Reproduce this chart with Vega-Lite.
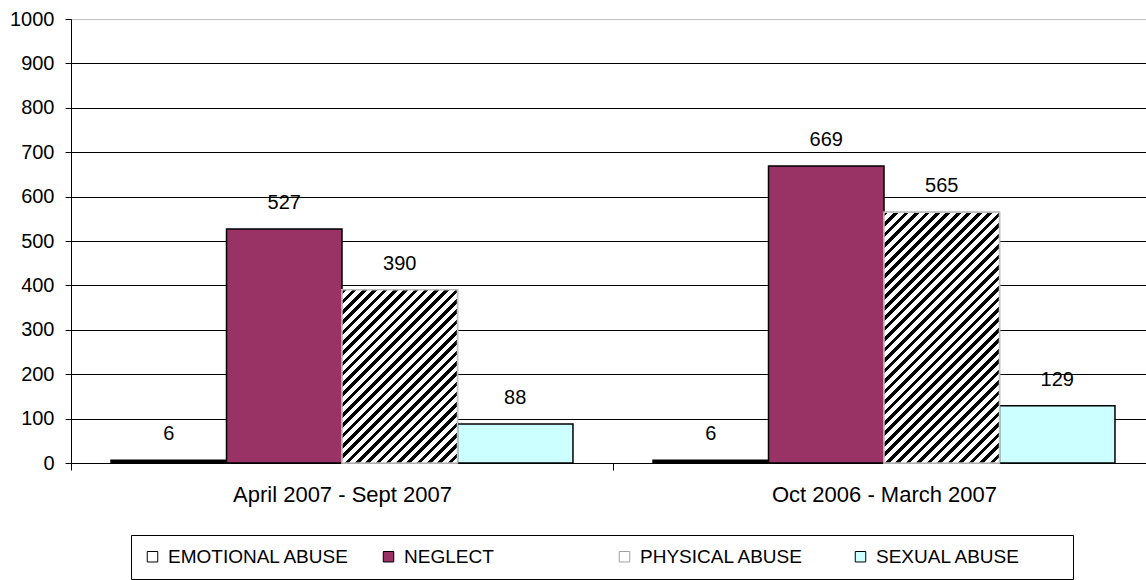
{
  "$schema": "https://vega.github.io/schema/vega-lite/v6.json",
  "width": 1075,
  "height": 444,
  "autosize": {"type": "none"},
  "padding": {"left": 71, "top": 19, "right": 0, "bottom": 117},
  "background": "white",
  "config": {"view": {"stroke": null}, "font": "Liberation Sans"},
  "data": {"values": [
    {"period": "April 2007 - Sept 2007", "type": "EMOTIONAL ABUSE", "count": 6},
    {"period": "April 2007 - Sept 2007", "type": "NEGLECT", "count": 527},
    {"period": "April 2007 - Sept 2007", "type": "PHYSICAL ABUSE", "count": 390},
    {"period": "April 2007 - Sept 2007", "type": "SEXUAL ABUSE", "count": 88},
    {"period": "Oct 2006 - March 2007", "type": "EMOTIONAL ABUSE", "count": 6},
    {"period": "Oct 2006 - March 2007", "type": "NEGLECT", "count": 669},
    {"period": "Oct 2006 - March 2007", "type": "PHYSICAL ABUSE", "count": 565},
    {"period": "Oct 2006 - March 2007", "type": "SEXUAL ABUSE", "count": 129}
  ]},
  "encoding": {
    "x": {
      "field": "period", "type": "nominal",
      "sort": ["April 2007 - Sept 2007", "Oct 2006 - March 2007"],
      "scale": {"range": [0, 1084], "paddingInner": 0, "paddingOuter": 0},
      "axis": {"title": null, "labelAngle": 0, "labelFontSize": 22, "labelColor": "black", "labelFont": "Liberation Sans", "labelLimit": 0,
        "domainColor": "black", "tickColor": "black", "tickSize": 7, "tickBand": "extent", "labelPadding": 14, "grid": false}
    },
    "xOffset": {
      "field": "type", "type": "nominal",
      "scale": {"domain": ["EMOTIONAL ABUSE", "NEGLECT", "PHYSICAL ABUSE", "SEXUAL ABUSE"], "paddingInner": 0, "paddingOuter": 0.3466}
    },
    "y": {
      "field": "count", "type": "quantitative",
      "scale": {"domain": [0, 1000], "nice": false},
      "axis": {"title": null, "values": [0, 100, 200, 300, 400, 500, 600, 700, 800, 900, 1000], "format": "d",
        "labelFontSize": 20, "labelColor": "black", "labelFont": "Liberation Sans", "tickColor": "black", "tickSize": 6, "labelPadding": 11,
        "domainColor": "black",
        "gridColor": {"condition": {"test": "datum.value === 1000", "value": "#c0c0c0"}, "value": "black"},
        "gridOpacity": 1}
    }
  },
  "layer": [
    {
      "mark": {"type": "bar", "strokeWidth": 1.5},
      "encoding": {
        "color": {
          "field": "type", "type": "nominal",
          "scale": {"domain": ["EMOTIONAL ABUSE", "NEGLECT", "PHYSICAL ABUSE", "SEXUAL ABUSE"], "range": ["#ffffff", "#993366", "#ffffff", "#ccffff"]},
          "legend": {"title": " ", "titleOrient": "right", "titlePadding": 40, "orient": "none", "legendX": 60, "legendY": 516, "direction": "horizontal", "columns": 4, "gridAlign": "all",
            "columnPadding": 29, "padding": 12, "strokeColor": "black", "symbolType": "square", "symbolSize": 110, "symbolStrokeWidth": 1,
            "labelFont": "Liberation Sans", "labelFontSize": 19, "labelColor": "black", "labelOffset": 6, "labelLimit": 0, "symbolOpacity": 1}
        },
        "stroke": {
          "field": "type", "type": "nominal",
          "scale": {"domain": ["EMOTIONAL ABUSE", "NEGLECT", "PHYSICAL ABUSE", "SEXUAL ABUSE"], "range": ["#000000", "#000000", "#a0a0a0", "#000000"]},
          "legend": {"title": " ", "titleOrient": "right", "titlePadding": 40, "orient": "none", "legendX": 60, "legendY": 516, "direction": "horizontal", "columns": 4, "gridAlign": "all",
            "columnPadding": 29, "padding": 12, "strokeColor": "black", "symbolType": "square", "symbolSize": 110, "symbolStrokeWidth": 1,
            "labelFont": "Liberation Sans", "labelFontSize": 19, "labelColor": "black", "labelOffset": 6, "labelLimit": 0, "symbolOpacity": 1}
        }
      }
    },
    {
      "transform": [{"filter": "datum.type === 'EMOTIONAL ABUSE'"}],
      "mark": {"type": "bar", "fill": "#000000", "strokeWidth": 0}
    },
    {
      "transform": [{"filter": "datum.type === 'PHYSICAL ABUSE'"}],
      "mark": {"type": "bar", "stroke": "#c0c0c0", "strokeWidth": 1.5},
      "encoding": {
        "fill": {
          "condition": {
            "test": "datum.period === 'April 2007 - Sept 2007'",
            "value": {"gradient": "linear", "x1": 0, "y1": 0, "x2": 0.7695, "y2": 1.1538, "stops": [
              {"offset": 0, "color": "#000"}, {"offset": 0.0161, "color": "#000"}, {"offset": 0.0161, "color": "#fff"}, {"offset": 0.0357, "color": "#fff"},
              {"offset": 0.0357, "color": "#000"}, {"offset": 0.0518, "color": "#000"}, {"offset": 0.0518, "color": "#fff"}, {"offset": 0.0714, "color": "#fff"},
              {"offset": 0.0714, "color": "#000"}, {"offset": 0.0875, "color": "#000"}, {"offset": 0.0875, "color": "#fff"}, {"offset": 0.1071, "color": "#fff"},
              {"offset": 0.1071, "color": "#000"}, {"offset": 0.1232, "color": "#000"}, {"offset": 0.1232, "color": "#fff"}, {"offset": 0.1429, "color": "#fff"},
              {"offset": 0.1429, "color": "#000"}, {"offset": 0.1589, "color": "#000"}, {"offset": 0.1589, "color": "#fff"}, {"offset": 0.1786, "color": "#fff"},
              {"offset": 0.1786, "color": "#000"}, {"offset": 0.1946, "color": "#000"}, {"offset": 0.1946, "color": "#fff"}, {"offset": 0.2143, "color": "#fff"},
              {"offset": 0.2143, "color": "#000"}, {"offset": 0.2304, "color": "#000"}, {"offset": 0.2304, "color": "#fff"}, {"offset": 0.25, "color": "#fff"},
              {"offset": 0.25, "color": "#000"}, {"offset": 0.2661, "color": "#000"}, {"offset": 0.2661, "color": "#fff"}, {"offset": 0.2857, "color": "#fff"},
              {"offset": 0.2857, "color": "#000"}, {"offset": 0.3018, "color": "#000"}, {"offset": 0.3018, "color": "#fff"}, {"offset": 0.3214, "color": "#fff"},
              {"offset": 0.3214, "color": "#000"}, {"offset": 0.3375, "color": "#000"}, {"offset": 0.3375, "color": "#fff"}, {"offset": 0.3571, "color": "#fff"},
              {"offset": 0.3571, "color": "#000"}, {"offset": 0.3732, "color": "#000"}, {"offset": 0.3732, "color": "#fff"}, {"offset": 0.3929, "color": "#fff"},
              {"offset": 0.3929, "color": "#000"}, {"offset": 0.4089, "color": "#000"}, {"offset": 0.4089, "color": "#fff"}, {"offset": 0.4286, "color": "#fff"},
              {"offset": 0.4286, "color": "#000"}, {"offset": 0.4446, "color": "#000"}, {"offset": 0.4446, "color": "#fff"}, {"offset": 0.4643, "color": "#fff"},
              {"offset": 0.4643, "color": "#000"}, {"offset": 0.4804, "color": "#000"}, {"offset": 0.4804, "color": "#fff"}, {"offset": 0.5, "color": "#fff"},
              {"offset": 0.5, "color": "#000"}, {"offset": 0.5161, "color": "#000"}, {"offset": 0.5161, "color": "#fff"}, {"offset": 0.5357, "color": "#fff"},
              {"offset": 0.5357, "color": "#000"}, {"offset": 0.5518, "color": "#000"}, {"offset": 0.5518, "color": "#fff"}, {"offset": 0.5714, "color": "#fff"},
              {"offset": 0.5714, "color": "#000"}, {"offset": 0.5875, "color": "#000"}, {"offset": 0.5875, "color": "#fff"}, {"offset": 0.6071, "color": "#fff"},
              {"offset": 0.6071, "color": "#000"}, {"offset": 0.6232, "color": "#000"}, {"offset": 0.6232, "color": "#fff"}, {"offset": 0.6429, "color": "#fff"},
              {"offset": 0.6429, "color": "#000"}, {"offset": 0.6589, "color": "#000"}, {"offset": 0.6589, "color": "#fff"}, {"offset": 0.6786, "color": "#fff"},
              {"offset": 0.6786, "color": "#000"}, {"offset": 0.6946, "color": "#000"}, {"offset": 0.6946, "color": "#fff"}, {"offset": 0.7143, "color": "#fff"},
              {"offset": 0.7143, "color": "#000"}, {"offset": 0.7304, "color": "#000"}, {"offset": 0.7304, "color": "#fff"}, {"offset": 0.75, "color": "#fff"},
              {"offset": 0.75, "color": "#000"}, {"offset": 0.7661, "color": "#000"}, {"offset": 0.7661, "color": "#fff"}, {"offset": 0.7857, "color": "#fff"},
              {"offset": 0.7857, "color": "#000"}, {"offset": 0.8018, "color": "#000"}, {"offset": 0.8018, "color": "#fff"}, {"offset": 0.8214, "color": "#fff"},
              {"offset": 0.8214, "color": "#000"}, {"offset": 0.8375, "color": "#000"}, {"offset": 0.8375, "color": "#fff"}, {"offset": 0.8571, "color": "#fff"},
              {"offset": 0.8571, "color": "#000"}, {"offset": 0.8732, "color": "#000"}, {"offset": 0.8732, "color": "#fff"}, {"offset": 0.8929, "color": "#fff"},
              {"offset": 0.8929, "color": "#000"}, {"offset": 0.9089, "color": "#000"}, {"offset": 0.9089, "color": "#fff"}, {"offset": 0.9286, "color": "#fff"},
              {"offset": 0.9286, "color": "#000"}, {"offset": 0.9446, "color": "#000"}, {"offset": 0.9446, "color": "#fff"}, {"offset": 0.9643, "color": "#fff"},
              {"offset": 0.9643, "color": "#000"}, {"offset": 0.9804, "color": "#000"}, {"offset": 0.9804, "color": "#fff"}, {"offset": 1, "color": "#fff"}
            ]}
          },
          "value": {"gradient": "linear", "x1": 0, "y1": 0, "x2": 0.5547, "y2": 1.205, "stops": [
            {"offset": 0, "color": "#000"}, {"offset": 0.0129, "color": "#000"}, {"offset": 0.0129, "color": "#fff"}, {"offset": 0.0286, "color": "#fff"},
            {"offset": 0.0286, "color": "#000"}, {"offset": 0.0414, "color": "#000"}, {"offset": 0.0414, "color": "#fff"}, {"offset": 0.0571, "color": "#fff"},
            {"offset": 0.0571, "color": "#000"}, {"offset": 0.07, "color": "#000"}, {"offset": 0.07, "color": "#fff"}, {"offset": 0.0857, "color": "#fff"},
            {"offset": 0.0857, "color": "#000"}, {"offset": 0.0986, "color": "#000"}, {"offset": 0.0986, "color": "#fff"}, {"offset": 0.1143, "color": "#fff"},
            {"offset": 0.1143, "color": "#000"}, {"offset": 0.1271, "color": "#000"}, {"offset": 0.1271, "color": "#fff"}, {"offset": 0.1429, "color": "#fff"},
            {"offset": 0.1429, "color": "#000"}, {"offset": 0.1557, "color": "#000"}, {"offset": 0.1557, "color": "#fff"}, {"offset": 0.1714, "color": "#fff"},
            {"offset": 0.1714, "color": "#000"}, {"offset": 0.1843, "color": "#000"}, {"offset": 0.1843, "color": "#fff"}, {"offset": 0.2, "color": "#fff"},
            {"offset": 0.2, "color": "#000"}, {"offset": 0.2129, "color": "#000"}, {"offset": 0.2129, "color": "#fff"}, {"offset": 0.2286, "color": "#fff"},
            {"offset": 0.2286, "color": "#000"}, {"offset": 0.2414, "color": "#000"}, {"offset": 0.2414, "color": "#fff"}, {"offset": 0.2571, "color": "#fff"},
            {"offset": 0.2571, "color": "#000"}, {"offset": 0.27, "color": "#000"}, {"offset": 0.27, "color": "#fff"}, {"offset": 0.2857, "color": "#fff"},
            {"offset": 0.2857, "color": "#000"}, {"offset": 0.2986, "color": "#000"}, {"offset": 0.2986, "color": "#fff"}, {"offset": 0.3143, "color": "#fff"},
            {"offset": 0.3143, "color": "#000"}, {"offset": 0.3271, "color": "#000"}, {"offset": 0.3271, "color": "#fff"}, {"offset": 0.3429, "color": "#fff"},
            {"offset": 0.3429, "color": "#000"}, {"offset": 0.3557, "color": "#000"}, {"offset": 0.3557, "color": "#fff"}, {"offset": 0.3714, "color": "#fff"},
            {"offset": 0.3714, "color": "#000"}, {"offset": 0.3843, "color": "#000"}, {"offset": 0.3843, "color": "#fff"}, {"offset": 0.4, "color": "#fff"},
            {"offset": 0.4, "color": "#000"}, {"offset": 0.4129, "color": "#000"}, {"offset": 0.4129, "color": "#fff"}, {"offset": 0.4286, "color": "#fff"},
            {"offset": 0.4286, "color": "#000"}, {"offset": 0.4414, "color": "#000"}, {"offset": 0.4414, "color": "#fff"}, {"offset": 0.4571, "color": "#fff"},
            {"offset": 0.4571, "color": "#000"}, {"offset": 0.47, "color": "#000"}, {"offset": 0.47, "color": "#fff"}, {"offset": 0.4857, "color": "#fff"},
            {"offset": 0.4857, "color": "#000"}, {"offset": 0.4986, "color": "#000"}, {"offset": 0.4986, "color": "#fff"}, {"offset": 0.5143, "color": "#fff"},
            {"offset": 0.5143, "color": "#000"}, {"offset": 0.5271, "color": "#000"}, {"offset": 0.5271, "color": "#fff"}, {"offset": 0.5429, "color": "#fff"},
            {"offset": 0.5429, "color": "#000"}, {"offset": 0.5557, "color": "#000"}, {"offset": 0.5557, "color": "#fff"}, {"offset": 0.5714, "color": "#fff"},
            {"offset": 0.5714, "color": "#000"}, {"offset": 0.5843, "color": "#000"}, {"offset": 0.5843, "color": "#fff"}, {"offset": 0.6, "color": "#fff"},
            {"offset": 0.6, "color": "#000"}, {"offset": 0.6129, "color": "#000"}, {"offset": 0.6129, "color": "#fff"}, {"offset": 0.6286, "color": "#fff"},
            {"offset": 0.6286, "color": "#000"}, {"offset": 0.6414, "color": "#000"}, {"offset": 0.6414, "color": "#fff"}, {"offset": 0.6571, "color": "#fff"},
            {"offset": 0.6571, "color": "#000"}, {"offset": 0.67, "color": "#000"}, {"offset": 0.67, "color": "#fff"}, {"offset": 0.6857, "color": "#fff"},
            {"offset": 0.6857, "color": "#000"}, {"offset": 0.6986, "color": "#000"}, {"offset": 0.6986, "color": "#fff"}, {"offset": 0.7143, "color": "#fff"},
            {"offset": 0.7143, "color": "#000"}, {"offset": 0.7271, "color": "#000"}, {"offset": 0.7271, "color": "#fff"}, {"offset": 0.7429, "color": "#fff"},
            {"offset": 0.7429, "color": "#000"}, {"offset": 0.7557, "color": "#000"}, {"offset": 0.7557, "color": "#fff"}, {"offset": 0.7714, "color": "#fff"},
            {"offset": 0.7714, "color": "#000"}, {"offset": 0.7843, "color": "#000"}, {"offset": 0.7843, "color": "#fff"}, {"offset": 0.8, "color": "#fff"},
            {"offset": 0.8, "color": "#000"}, {"offset": 0.8129, "color": "#000"}, {"offset": 0.8129, "color": "#fff"}, {"offset": 0.8286, "color": "#fff"},
            {"offset": 0.8286, "color": "#000"}, {"offset": 0.8414, "color": "#000"}, {"offset": 0.8414, "color": "#fff"}, {"offset": 0.8571, "color": "#fff"},
            {"offset": 0.8571, "color": "#000"}, {"offset": 0.87, "color": "#000"}, {"offset": 0.87, "color": "#fff"}, {"offset": 0.8857, "color": "#fff"},
            {"offset": 0.8857, "color": "#000"}, {"offset": 0.8986, "color": "#000"}, {"offset": 0.8986, "color": "#fff"}, {"offset": 0.9143, "color": "#fff"},
            {"offset": 0.9143, "color": "#000"}, {"offset": 0.9271, "color": "#000"}, {"offset": 0.9271, "color": "#fff"}, {"offset": 0.9429, "color": "#fff"},
            {"offset": 0.9429, "color": "#000"}, {"offset": 0.9557, "color": "#000"}, {"offset": 0.9557, "color": "#fff"}, {"offset": 0.9714, "color": "#fff"},
            {"offset": 0.9714, "color": "#000"}, {"offset": 0.9843, "color": "#000"}, {"offset": 0.9843, "color": "#fff"}, {"offset": 1, "color": "#fff"}
          ]}
        }
      }
    },
    {
      "mark": {"type": "text", "dy": -20, "baseline": "alphabetic", "fontSize": 20, "font": "Liberation Sans", "color": "black"},
      "encoding": {"text": {"field": "count", "type": "quantitative"}}
    }
  ]
}
